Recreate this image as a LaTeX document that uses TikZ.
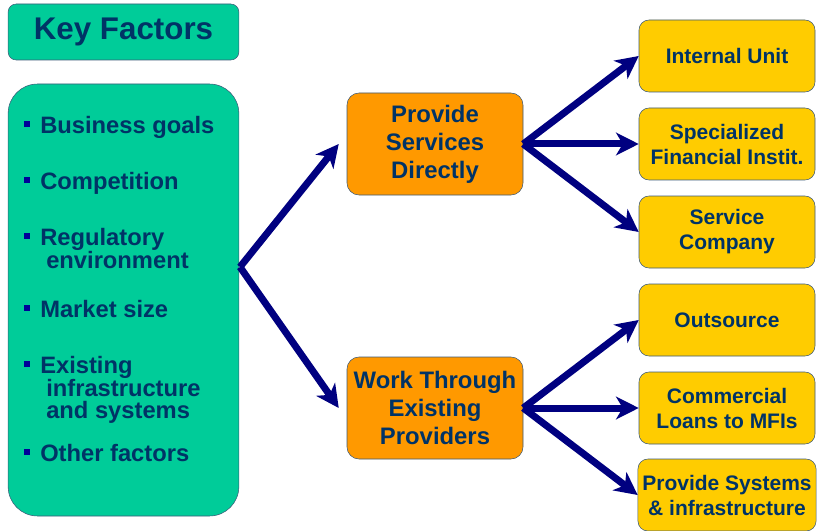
\documentclass[tikz,border=0pt]{standalone}
\usepackage{fontspec}
\setmainfont{Liberation Sans}
\usepackage{xcolor}
\usepackage{tikz}
\usetikzlibrary{arrows.meta,positioning}
\definecolor{factorgreen}{RGB}{0,204,153}
\definecolor{routeorange}{RGB}{255,153,0}
\definecolor{optionyellow}{RGB}{255,204,0}
\definecolor{textnavy}{RGB}{0,51,102}
\definecolor{arrownavy}{RGB}{0,0,128}
\definecolor{bulletblue}{RGB}{0,0,153}
\definecolor{edgeslate}{RGB}{60,90,120}
\newcommand{\sqbullet}{\textcolor{bulletblue}{\rule[5pt]{4.5pt}{4.5pt}}\hspace{7.5pt}}

\begin{document}
\begin{tikzpicture}[x=0.75pt,y=-0.75pt,
  header/.style={rectangle,draw=edgeslate,fill=factorgreen,rounded corners=6pt,
    minimum width=173pt,minimum height=42pt,text=textnavy,
    font=\bfseries\fontsize{23.5}{28}\selectfont},
  panel/.style={rectangle,draw=edgeslate,fill=factorgreen,rounded corners=22pt,
    minimum width=173pt,minimum height=324pt},
  item/.style={anchor=north west,inner sep=0pt,align=left,text=textnavy,
    font=\bfseries\fontsize{17.8}{17}\selectfont},
  route/.style={rectangle,draw=edgeslate,fill=routeorange,rounded corners=9pt,
    minimum width=132pt,minimum height=76.5pt,align=center,text=textnavy,
    font=\bfseries\fontsize{17.9}{21}\selectfont},
  channel/.style={rectangle,draw=edgeslate,fill=optionyellow,rounded corners=7.5pt,
    minimum width=132pt,minimum height=54pt,align=center,text=textnavy,
    font=\bfseries\fontsize{15.75}{18.75}\selectfont},
  arrow/.style={-{Stealth[length=17pt,width=17pt,inset=5pt]},line width=5.25pt,color=arrownavy},
]
  \useasboundingbox (0,0) rectangle (817,531);

  % left column
  \node[header] (key)     at (123.5,32)  {Key Factors};
  \node[panel]  (factors) at (123.5,300) {};
  \node[item] (goals)   at (24,116) {\sqbullet Business goals};
  \node[item] (compet)  at (24,172) {\sqbullet Competition};
  \node[item] (regul)   at (24,228) {\sqbullet Regulatory\\\hspace*{16.5pt}environment};
  \node[item] (market)  at (24,300) {\sqbullet Market size};
  \node[item] (exist)   at (24,356) {\sqbullet Existing\\\hspace*{16.5pt}infrastructure\\\hspace*{16.5pt}and systems};
  \node[item] (other)   at (24,444) {\sqbullet Other factors};

  % two routes
  \node[route] (direct) at (435,144) {Provide\\Services\\Directly};
  \node[route] (work)   at (435,408) {Work Through\\Existing\\Providers};

  % delivery options
  \node[channel] (unit)    at (727,56)  {Internal Unit};
  \node[channel] (special) at (727,144) {Specialized\\Financial Instit.};
  \node[channel] (service) at (727,232) {Service\\Company};
  \node[channel] (outs)    at (727,320) {Outsource};
  \node[channel] (loans)   at (727,408) {Commercial\\Loans to MFIs};
  \node[channel] (systems) at (727,495) {Provide Systems\\\& infrastructure};

  \coordinate (fork) at (240,267);
  \draw[arrow] (fork) -- ([xshift=-6pt]direct.west);
  \draw[arrow] (fork) -- ([xshift=-6pt]work.west);
  \draw[arrow] (direct.east) -- (unit.west);
  \draw[arrow] (direct.east) -- (special.west);
  \draw[arrow] (direct.east) -- (service.west);
  \draw[arrow] (work.east) -- (outs.west);
  \draw[arrow] (work.east) -- (loans.west);
  \draw[arrow] (work.east) -- (systems.west);
\end{tikzpicture}
\end{document}
